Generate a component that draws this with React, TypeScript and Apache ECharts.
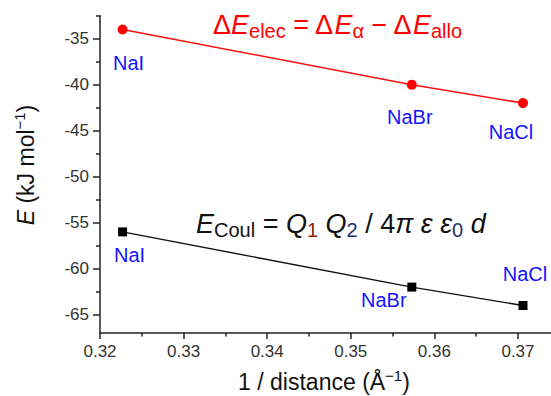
import React, { useEffect, useRef } from "react";
import * as echarts from "echarts";

const compounds = ["NaI", "NaBr", "NaCl"];
const invDistance = [0.3227, 0.3573, 0.3706];
const elecEnergy = [-34, -40, -42];
const coulEnergy = [-56, -62, -64];
const xMajorTicks = [0.32, 0.33, 0.34, 0.35, 0.36, 0.37];
const xMinorTicks = [0.325, 0.335, 0.345, 0.355, 0.365];
const yMajorTicks = [-65, -60, -55, -50, -45, -40, -35];
const yMinorTicks = [-62.5, -57.5, -52.5, -47.5, -42.5, -37.5, -32.5];

// label placement (pixel offsets from each marker)
const elecLabelOffsets = [[6, 33], [-2, 32], [-12, 29]];
const coulLabelOffsets = [[7, 23], [-28, 13], [2, -32]];

const FONT = "'Liberation Sans', Arial, sans-serif";
const AXIS_COLOR = "#222";
const LABEL_BLUE = "#1414ff";

export default function App() {
  const ref = useRef<HTMLDivElement>(null);

  useEffect(() => {
    if (!ref.current) return;
    const chart = echarts.init(ref.current, undefined, { renderer: "svg" });

    const makeData = (ys: number[], offsets: number[][]) =>
      invDistance.map((x, i) => ({
        value: [x, ys[i]],
        label: { offset: offsets[i] },
      }));

    const pointLabel = {
      show: true,
      position: "inside",
      formatter: (p: any) => compounds[p.dataIndex],
      color: LABEL_BLUE,
      fontSize: 20,
      fontFamily: FONT,
    };

    const main = (size: number, fill: string, italic = false) => ({
      fontSize: size,
      fontFamily: FONT,
      fontStyle: italic ? "italic" : "normal",
      fill,
      lineHeight: 32,
    });
    const sub = (size: number, fill: string) => ({
      fontSize: size,
      fontFamily: FONT,
      fill,
      lineHeight: 7,
      verticalAlign: "bottom",
    });

    const option: any = {
      animation: false,
      grid: {
        left: 100,
        top: 15.7,
        right: 0,
        bottom: 62.9,
        containLabel: false,
        outerBoundsMode: "none",
      },
      xAxis: [
        {
          type: "value",
          min: 0.32,
          max: 0.37395,
          position: "bottom",
          axisLine: { show: true, lineStyle: { color: AXIS_COLOR, width: 1.5 } },
          axisTick: {
            show: true,
            inside: false,
            length: 6,
            customValues: xMajorTicks,
            lineStyle: { color: AXIS_COLOR, width: 1.5 },
          },
          axisLabel: {
            show: true,
            customValues: xMajorTicks,
            formatter: (v: number) => v.toFixed(2),
            fontSize: 17,
            fontFamily: FONT,
            color: "#333",
            margin: 10,
          },
          splitLine: { show: false },
        },
        {
          type: "value",
          min: 0.32,
          max: 0.37395,
          position: "bottom",
          axisLine: { show: false },
          axisTick: {
            show: true,
            inside: false,
            length: 3.5,
            customValues: xMinorTicks,
            lineStyle: { color: AXIS_COLOR, width: 1.5 },
          },
          axisLabel: { show: false },
          splitLine: { show: false },
        },
      ],
      yAxis: [
        {
          type: "value",
          min: -67,
          max: -32.5,
          position: "left",
          axisLine: { show: true, lineStyle: { color: AXIS_COLOR, width: 1.5 } },
          axisTick: {
            show: true,
            inside: false,
            length: 7,
            customValues: yMajorTicks,
            lineStyle: { color: AXIS_COLOR, width: 1.5 },
          },
          axisLabel: {
            show: true,
            customValues: yMajorTicks,
            formatter: (v: number) => String(v),
            fontSize: 17,
            fontFamily: FONT,
            color: "#333",
            margin: 11,
          },
          splitLine: { show: false },
        },
        {
          type: "value",
          min: -67,
          max: -32.5,
          position: "left",
          axisLine: { show: false },
          axisTick: {
            show: true,
            inside: false,
            length: 4,
            customValues: yMinorTicks,
            lineStyle: { color: AXIS_COLOR, width: 1.5 },
          },
          axisLabel: { show: false },
          splitLine: { show: false },
        },
      ],
      series: [
        {
          type: "line",
          name: "elec",
          xAxisIndex: 0,
          yAxisIndex: 0,
          data: makeData(elecEnergy, elecLabelOffsets),
          symbol: "circle",
          symbolSize: 10,
          itemStyle: { color: "#ff0000" },
          lineStyle: { color: "#ff1010", width: 1.5 },
          label: pointLabel,
        },
        {
          type: "line",
          name: "coul",
          xAxisIndex: 0,
          yAxisIndex: 0,
          data: makeData(coulEnergy, coulLabelOffsets),
          symbol: "rect",
          symbolSize: 9,
          itemStyle: { color: "#000" },
          lineStyle: { color: "#111", width: 1.4 },
          label: pointLabel,
        },
      ],
      graphic: [
        {
          type: "text",
          x: 26,
          y: 165,
          rotation: Math.PI / 2,
          style: {
            text: "{i|E}{m| (kJ mol}{s|−1}{m|)}",
            textAlign: "center",
            textVerticalAlign: "middle",
            rich: {
              i: { fontSize: 23, fontFamily: FONT, fontStyle: "italic", fill: "#111", lineHeight: 28 },
              m: { fontSize: 23, fontFamily: FONT, fill: "#111", lineHeight: 28 },
              s: { fontSize: 15, fontFamily: FONT, fill: "#111", lineHeight: 20, verticalAlign: "top" },
            },
          },
        },
        {
          type: "text",
          x: 324,
          y: 382,
          style: {
            text: "{m|1 / distance (Å}{s|−1}{m|)}",
            textAlign: "center",
            textVerticalAlign: "middle",
            rich: {
              m: { fontSize: 23, fontFamily: FONT, fill: "#111", lineHeight: 28 },
              s: { fontSize: 15, fontFamily: FONT, fill: "#111", lineHeight: 20, verticalAlign: "top" },
            },
          },
        },
        {
          type: "text",
          x: 213,
          y: 9,
          style: {
            text: "{m|Δ}{i|E}{s|elec}{m| = Δ}{i|E}{s|α}{m| − Δ}{i|E}{s|allo}",
            textAlign: "left",
            textVerticalAlign: "top",
            rich: {
              m: main(27, "#ff0000"),
              i: main(27, "#ff0000", true),
              s: sub(20, "#ff0000"),
            },
          },
        },
        {
          type: "text",
          x: 196,
          y: 208,
          style: {
            text:
              "{i|E}{s|Coul}{m| = }{i|Q}{a|1}{m| }{i|Q}{b|2}{m| / 4}{i|π}{m| }{i|ε}{m| }{i|ε}{b|0}{m| }{i|d}",
            textAlign: "left",
            textVerticalAlign: "top",
            rich: {
              m: main(27, "#111"),
              i: main(27, "#111", true),
              s: sub(20, "#111"),
              a: sub(20, "#8a1c10"),
              b: sub(20, "#1f3070"),
            },
          },
        },
      ],
    };

    chart.setOption(option);
    return () => chart.dispose();
  }, []);

  return (
    <div
      ref={ref}
      style={{ position: "absolute", left: 0, top: 0, width: 551, height: 396 }}
    />
  );
}
